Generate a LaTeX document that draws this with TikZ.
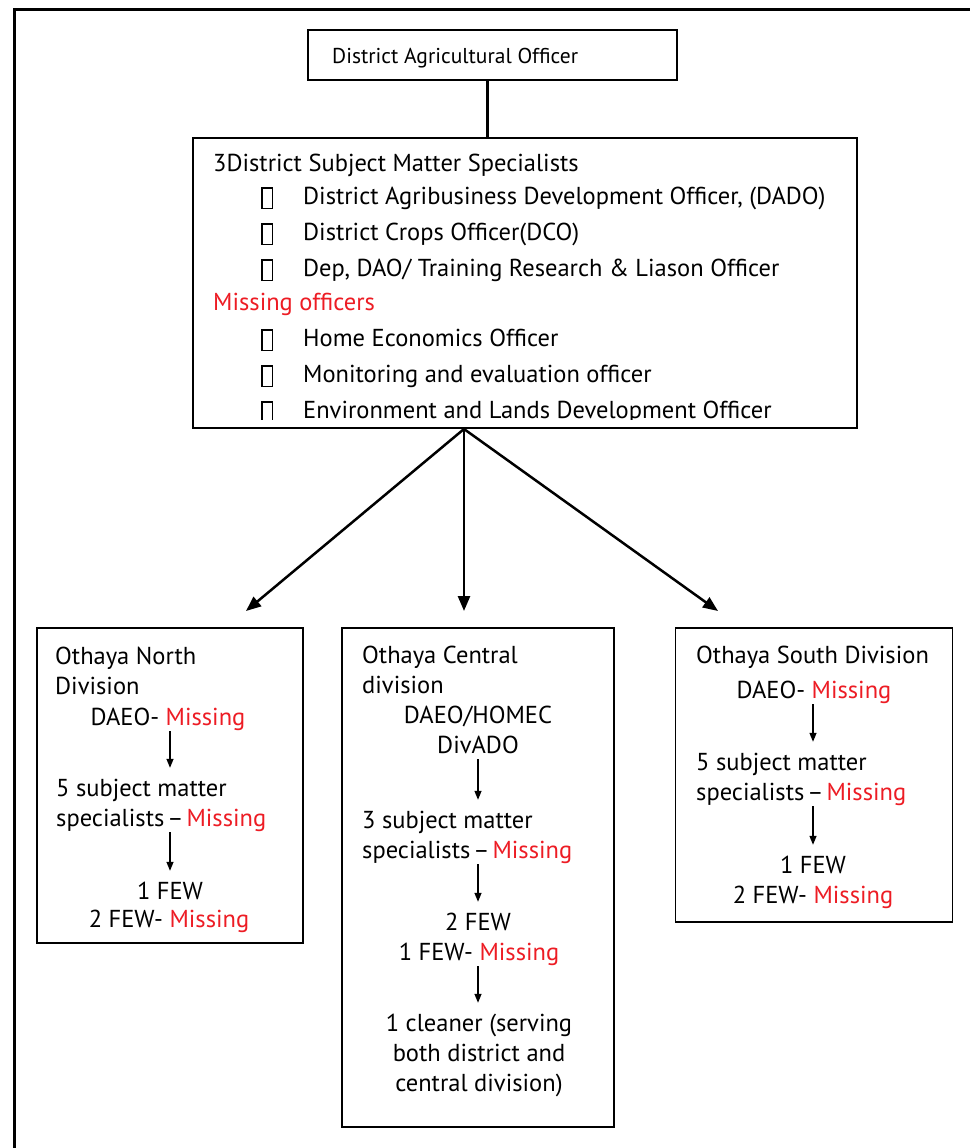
\documentclass[tikz,border=0pt]{standalone}
\usepackage{fontspec}
\setmainfont{PT Sans}
\usetikzlibrary{arrows.meta}
\definecolor{missred}{RGB}{237,28,36}
\newcommand\miss[1]{\textcolor{missred}{#1}}
\newcommand\tofubox{\raisebox{-3pt}{\setlength{\fboxsep}{0pt}\setlength{\fboxrule}{1.3pt}\fbox{\rule{0pt}{19pt}\rule{9pt}{0pt}}}}
\newcommand\bul{\makebox[42pt][l]{\tofubox}}
\newcommand\spdash{specialists\hspace{3pt}--\hspace{3pt}\miss{Missing}}
\begin{document}
\begin{tikzpicture}[x=1pt,y=-1pt,
  font=\fontsize{24.5}{28}\selectfont,
  box/.style={draw, line width=1.5pt, inner sep=0pt},
  txt/.style={inner sep=0pt, anchor=base west, text height=18pt, text depth=5pt},
  ctxt/.style={inner sep=0pt, anchor=base, text height=18pt, text depth=5pt},
  bigarr/.style={line width=2.5pt, -{Triangle[length=15pt,width=12pt]}},
  smallarr/.style={line width=1.3pt, -{Triangle[length=9pt,width=7pt]}, shorten <=1pt, shorten >=10pt}]
\useasboundingbox (0,0) rectangle (969,1148);
\fill[white] (0,0) rectangle (969,1148);
% outer frame (cut off at right and bottom)
\draw[line width=3pt] (14,1150) -- (14,10) -- (971,10);

% top boxes
\node[box, line width=2pt, minimum width=369pt, minimum height=50pt] (box1) at (492.5,55) {};
\node[txt, font=\fontsize{21.5}{25}\selectfont] (t1) at (332,63.5) {District Agricultural Officer};
\node[box, line width=2pt, minimum width=664pt, minimum height=290pt] (box2) at (525,283) {};
\coordinate (topX) at (487,0);
\draw[line width=3pt] (box1.south -| topX) -- (box2.north -| topX);

\node[txt] (s0) at (213,171.5) {3District Subject Matter Specialists};
\node[txt] (s1) at (261,204.5) {\bul District Agribusiness Development Officer, (DADO)};
\node[txt] (s2) at (261,240.5) {\bul District Crops Officer(DCO)};
\node[txt] (s3) at (261,276.5) {\bul Dep, DAO/ Training Research \& Liason Officer};
\node[txt] (s4) at (213,310.5) {\miss{Missing officers}};
\node[txt] (s5) at (261,346.5) {\bul Home Economics Officer};
\node[txt] (s6) at (261,382.5) {\bul Monitoring and evaluation officer};
\begin{scope}
\clip (193,138) rectangle (857,419);
\node[txt] (s7) at (261,418.5) {\bul Environment and Lands Development Officer};
\end{scope}

% big arrows
\coordinate (hubX) at (464,0);
\coordinate (tipL) at (246,611);
\coordinate (tipC) at (464,611);
\coordinate (tipR) at (718,611);
\draw[bigarr] (box2.south -| hubX) -- (tipL);
\draw[bigarr] (box2.south -| hubX) -- (tipC);
\draw[bigarr] (box2.south -| hubX) -- (tipR);

% bottom boxes
\node[box, minimum width=266pt, minimum height=315pt] (bN) at (170,785.5) {};
\node[box, minimum width=272pt, minimum height=499pt] (bC) at (478,877.5) {};
\node[box, minimum width=277pt, minimum height=294pt] (bS) at (814,775) {};

% North
\node[txt] (n1) at (55,664) {Othaya North};
\node[txt] (n2) at (55,694) {Division};
\node[ctxt] (n3) at (168,725) {DAEO- \miss{Missing}};
\node[txt] (n4) at (56,796) {5 subject matter};
\node[txt] (n5) at (56,826) {\spdash};
\node[ctxt] (n6) at (170,899) {1 FEW};
\node[ctxt] (n7) at (169,927) {2 FEW- \miss{Missing}};
\coordinate (xN) at (170,0);
\draw[smallarr] (n3.south -| xN) -- (n4.north -| xN);
\draw[smallarr] (n5.south -| xN) -- (n6.north -| xN);

% Central
\node[txt] (c1) at (362,663) {Othaya Central};
\node[txt] (c2) at (362,693) {division};
\node[ctxt] (c3) at (478,723) {DAEO/HOMEC};
\node[ctxt] (c4) at (478,753) {DivADO};
\node[txt] (c5) at (362,828) {3 subject matter};
\node[txt] (c6) at (362,858) {\spdash};
\node[ctxt] (c7) at (478,930) {2 FEW};
\node[ctxt] (c8) at (479,960) {1 FEW- \miss{Missing}};
\node[ctxt] (c9) at (479,1031) {1 cleaner (serving};
\node[ctxt] (c10) at (479,1061) {both district and};
\node[ctxt] (c11) at (479,1091) {central division)};
\coordinate (xC) at (478,0);
\draw[smallarr] (c4.south -| xC) -- (c5.north -| xC);
\draw[smallarr] (c6.south -| xC) -- (c7.north -| xC);
\draw[smallarr] (c8.south -| xC) -- (c9.north -| xC);

% South
\node[txt] (r1) at (696,663) {Othaya South Division};
\node[ctxt] (r2) at (814,698) {DAEO- \miss{Missing}};
\node[txt] (r3) at (696,770) {5 subject matter};
\node[txt] (r4) at (696,800) {\spdash};
\node[ctxt] (r5) at (813,873) {1 FEW};
\node[ctxt] (r6) at (813,903) {2 FEW- \miss{Missing}};
\coordinate (xS) at (813,0);
\draw[smallarr] (r2.south -| xS) -- (r3.north -| xS);
\draw[smallarr] (r4.south -| xS) -- (r5.north -| xS);
\end{tikzpicture}
\end{document}
